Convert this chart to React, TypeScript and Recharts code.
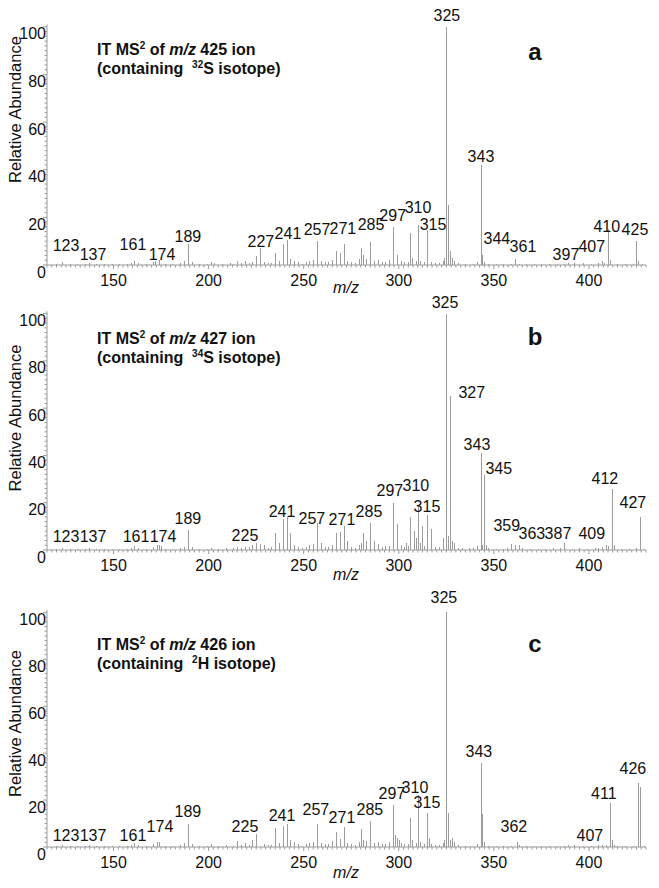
import { ComposedChart, Bar, Scatter, XAxis, YAxis, ReferenceLine } from "recharts";

const FONT = '"Liberation Sans", Arial, Helvetica, sans-serif';
const AXIS = "#9a9a9a";
const PEAK = "#9c9c9c";
const INK = "#111111";

// [m/z, relative abundance]
const peaksA: [number, number][] = [
  [123, 1.2], [137, 0.8], [161, 1.5], [174, 2], [189, 9], [227, 7], [241, 10.5],
  [257, 10], [271, 9], [285, 9.7], [297, 16], [310, 17], [315, 14.5], [325, 100],
  [343, 42], [344, 4], [361, 2.5], [397, 1], [407, 1.5], [410, 15], [425, 10],
  [120, 0.4], [127, 0.5], [131, 0.4], [135, 0.6], [141, 0.4], [145, 0.5], [149, 0.5],
  [153, 0.4], [157, 0.6], [159, 0.9], [163, 0.7], [167, 0.5], [171, 1.2], [172, 1.6],
  [177, 0.5], [181, 0.6], [185, 0.8], [187, 1.6], [191, 1.2], [195, 0.5], [199, 0.6],
  [201, 1.1], [203, 0.7], [207, 0.5], [211, 0.8], [213, 0.6], [215, 1.6], [217, 0.9],
  [219, 1.6], [221, 0.8], [223, 1.4], [225, 3.8], [229, 1.2], [231, 0.8], [233, 1],
  [235, 5], [237, 1.5], [239, 9], [243, 2.5], [245, 1.6], [247, 1.2], [249, 0.6],
  [251, 1.3], [253, 1.6], [255, 2.2], [259, 1.6], [261, 1.1], [263, 1.2], [265, 2.2],
  [267, 6], [269, 5], [273, 1.6], [275, 1.1], [277, 1], [279, 2.4], [280, 7], [281, 4],
  [283, 2.5], [287, 1.6], [289, 2.2], [291, 1.1], [293, 1.2], [295, 2.3], [299, 4],
  [301, 1.6], [303, 1.1], [305, 1.2], [306, 13.5], [307, 3], [309, 1.6], [311, 1.7],
  [313, 1.1], [317, 1.2], [319, 0.8], [321, 0.9], [323, 1.6], [324, 3], [326, 25],
  [327, 6], [328, 3], [329, 1.5], [331, 0.7], [335, 0.5], [339, 0.6], [341, 1.1],
  [345, 1.2], [347, 0.6], [351, 0.5], [355, 0.5], [359, 0.6], [363, 0.6], [367, 0.5],
  [371, 0.5], [375, 0.5], [379, 0.6], [383, 0.6], [387, 0.5], [389, 0.7], [392, 0.7],
  [401, 0.6], [405, 0.8], [408, 1], [411, 2], [415, 0.5], [419, 0.5], [423, 0.6],
  [426, 1.5], [428, 0.5],
];

const peaksB: [number, number][] = [
  [123, 1], [137, 0.8], [161, 1.5], [173, 2.2], [174, 2], [189, 8.5], [225, 3],
  [235, 7], [237, 3], [239, 13], [241, 14], [243, 7], [257, 11.4], [267, 7], [269, 7.5],
  [271, 10], [273, 4], [281, 7], [283, 4], [285, 11.5], [287, 4], [297, 20], [299, 11],
  [306, 14], [308, 8], [310, 18.6], [312, 10], [315, 15], [317, 9], [325, 100], [327, 65],
  [343, 41], [345, 31.6], [359, 2.5], [361, 2], [363, 2], [387, 3], [409, 2], [412, 25.7],
  [427, 14],
  [120, 0.4], [127, 0.5], [131, 0.5], [135, 0.6], [141, 0.5], [145, 0.5], [149, 0.6],
  [153, 0.4], [157, 0.6], [159, 1], [163, 0.7], [167, 0.5], [171, 1.2], [175, 1.6],
  [177, 0.6], [181, 0.5], [185, 0.8], [187, 1.4], [191, 1.4], [195, 0.5], [199, 0.6],
  [201, 0.9], [205, 0.6], [209, 0.7], [213, 0.9], [215, 1.3], [217, 1], [219, 1.2],
  [221, 1.1], [223, 2], [227, 2.5], [229, 2], [231, 0.8], [233, 1.2], [245, 2],
  [247, 1.2], [249, 0.7], [251, 1.4], [253, 2], [255, 2.4], [259, 3], [261, 1.2],
  [263, 1.3], [265, 2], [275, 1.4], [277, 1], [279, 2], [280, 3], [289, 2.5], [291, 1.2],
  [293, 1.6], [295, 1.5], [301, 2], [303, 1.3], [304, 3], [305, 1.5], [309, 5], [311, 3],
  [313, 1.5], [319, 1.2], [321, 1.4], [323, 5], [326, 6], [328, 4], [329, 3], [331, 1],
  [333, 0.8], [337, 0.7], [339, 1], [341, 1.5], [344, 2], [346, 2], [347, 1], [351, 0.6],
  [355, 0.6], [357, 1], [365, 0.8], [369, 0.6], [373, 0.6], [377, 0.6], [381, 0.7],
  [385, 0.7], [391, 0.6], [395, 0.8], [399, 0.6], [403, 0.8], [405, 1], [407, 1.2],
  [410, 1.5], [413, 2], [417, 0.6], [421, 0.6], [425, 0.8], [429, 0.6],
];

const peaksC: [number, number][] = [
  [123, 1], [137, 0.8], [161, 1.5], [173, 2], [174, 2], [189, 10], [223, 3], [225, 5.5],
  [235, 8], [239, 9], [241, 10], [243, 3], [257, 9.8], [267, 6.4], [269, 3.5], [271, 8.5],
  [280, 7.6], [285, 11], [297, 18], [299, 4], [306, 12.3], [310, 22], [315, 14.5],
  [325, 100], [326, 14.5], [327, 3], [343, 35.7], [344, 14], [362, 2.3], [407, 1],
  [411, 18.7], [412, 3], [426, 27.3], [427, 25.6],
  [120, 0.4], [127, 0.5], [131, 0.4], [135, 0.6], [141, 0.4], [145, 0.5], [149, 0.5],
  [153, 0.4], [157, 0.6], [159, 0.9], [163, 0.7], [167, 0.5], [171, 1.2], [177, 0.5],
  [181, 0.6], [185, 0.8], [187, 1.6], [191, 1.2], [195, 0.5], [199, 0.6], [201, 1.1],
  [205, 0.6], [209, 0.7], [213, 0.6], [215, 2.5], [217, 0.9], [219, 1.8], [221, 0.8],
  [229, 1.2], [231, 0.8], [233, 1], [237, 1.8], [245, 2], [247, 1.2], [249, 0.6],
  [251, 1.3], [253, 1.6], [255, 2.2], [259, 1.6], [261, 1.1], [263, 1.2], [265, 2.4],
  [273, 1.6], [275, 1.1], [277, 1], [279, 2], [281, 3], [283, 2.5], [287, 1.6], [289, 2],
  [291, 1.1], [293, 1.2], [295, 2], [298, 5], [300, 3], [301, 1.6], [303, 1.1], [305, 1.2],
  [307, 3], [309, 1.6], [311, 2], [313, 1.1], [316, 4], [317, 1.2], [319, 0.8], [321, 0.9],
  [323, 1.6], [324, 3], [328, 4], [329, 2], [331, 0.7], [335, 0.5], [339, 0.6], [341, 1.1],
  [345, 2], [347, 0.6], [351, 0.5], [355, 0.5], [359, 0.6], [363, 0.8], [367, 0.5],
  [371, 0.5], [375, 0.5], [379, 0.6], [383, 0.6], [387, 0.5], [389, 0.7], [392, 0.7],
  [397, 0.6], [401, 0.6], [405, 0.8], [409, 1], [413, 1], [415, 0.5], [419, 0.5],
  [423, 0.6], [429, 0.5],
];

// peak annotations: [text, m/z where the text sits, abundance where the text sits]
const labelsA: [string, number, number][] = [
  ["123", 125, 8], ["137", 139.2, 4.6], ["161", 160.2, 8.4], ["174", 175.5, 4.2],
  ["189", 189.1, 11.8], ["227", 227.5, 9.7], ["241", 241.7, 13.4], ["257", 257, 14.7],
  ["271", 270.6, 15.5], ["285", 285.4, 17.2], ["297", 296.8, 20.8], ["310", 310.1, 24.3],
  ["315", 318, 16.8], ["325", 325.3, 104.6], ["343", 343.2, 45.4], ["344", 351.6, 11.3],
  ["361", 365.3, 7.6], ["397", 387.9, 4.2], ["407", 401.5, 7.6], ["410", 409.4, 16],
  ["425", 424.2, 14.7],
];

const labelsB: [string, number, number][] = [
  ["123", 125, 5.7], ["137", 139.2, 5.7], ["161", 161.8, 5.7], ["174", 176, 5.7],
  ["189", 189.1, 13.5], ["225", 219.1, 6.3], ["241", 238.6, 16.3], ["257", 254.3, 13.5],
  ["271", 270.1, 13.1], ["285", 284.3, 16.5], ["297", 295.3, 25], ["310", 309, 27.1],
  ["315", 314.8, 18.2], ["325", 324.3, 104.9], ["327", 338.4, 66.8], ["343", 341.1, 44.8],
  ["345", 352.6, 34.3], ["359", 356.8, 10.2], ["363", 370, 6.8], ["387", 383.7, 6.8],
  ["409", 401.5, 6.8], ["412", 408.4, 30.2], ["427", 423.1, 20.1],
];

const labelsC: [string, number, number][] = [
  ["123", 125, 5.1], ["137", 139.2, 5.1], ["161", 160.2, 5.1], ["174", 174.4, 8.7],
  ["189", 189.1, 15.1], ["225", 219.1, 8.7], ["241", 238.6, 13.4], ["257", 256.4, 16],
  ["271", 270.1, 12.4], ["285", 284.8, 15.8], ["297", 296.4, 23], ["310", 308.5, 25.4],
  ["315", 314.8, 19], ["325", 323.7, 106.4], ["343", 342.1, 40.9], ["362", 360.5, 8.7],
  ["407", 400.5, 4.9], ["411", 407.8, 23], ["426", 423.1, 33.3],
];

const X_MIN = 115;
const X_MAX = 430;
const xTicks: number[] = [];
for (let v = X_MIN; v <= X_MAX; v += 2.5) xTicks.push(v);
const yTicks: number[] = [];
for (let v = 0; v <= 100; v += 2) yTicks.push(v);

const toRows = (pairs: [number, number][]) =>
  pairs.map(([mz, ab]) => ({ mz, ab })).sort((a, b) => a.mz - b.mz);
const toLabels = (items: [string, number, number][]) =>
  items.map(([text, mz, ab]) => ({ text, mz, ab }));

const XTick = (props: any) => {
  const { x, y, payload } = props;
  const v = payload.value;
  const major = v % 50 === 0;
  return (
    <g>
      <line x1={x} x2={x} y1={y} y2={y + (major ? 4 : 2.5)} stroke={AXIS} />
      {major && (
        <text x={x} y={y + 15.5} textAnchor="middle" dominantBaseline="central"
          fontSize={16} fontFamily={FONT} fill={INK}>
          {v}
        </text>
      )}
    </g>
  );
};

const YTick = (props: any) => {
  const { x, y, payload } = props;
  const v = payload.value;
  const major = v % 20 === 0;
  return (
    <g>
      <line x1={x - (major ? 4 : 2.5)} x2={x} y1={y} y2={y} stroke={AXIS} />
      {major && (
        <text x={x - 1} y={y + 7} textAnchor="end" dominantBaseline="central"
          fontSize={16} fontFamily={FONT} fill={INK}>
          {v}
        </text>
      )}
    </g>
  );
};

// one pixel wide stick, snapped to the pixel grid so it stays solid
const Stick = (props: any) => {
  const { x, y, width, height } = props;
  if (!height || height <= 0) return null;
  const cx = Math.round(x + width / 2);
  return <rect x={cx} y={y} width={1} height={height} fill={PEAK} shapeRendering="crispEdges" />;
};

const PeakLabel = (props: any) => {
  const { cx, cy, payload } = props;
  return (
    <text x={cx} y={cy} textAnchor="middle" dominantBaseline="central"
      fontSize={16} fontFamily={FONT} fill={INK}>
      {payload.text}
    </text>
  );
};

interface PanelProps {
  top: number;
  height: number;
  marginTop: number;
  axisHeight: number;
  peaks: [number, number][];
  labels: [string, number, number][];
  precursor: string;
  isoMass: string;
  isoSym: string;
  letter: string;
  titleY: number;
  letterY: number;
  yLabelY: number;
  mzY: number;
}

function Panel(p: PanelProps) {
  const rows = toRows(p.peaks);
  return (
    <div style={{ position: "absolute", left: 0, top: p.top, width: 659, height: p.height }}>
      <ComposedChart width={659} height={p.height} data={rows}
        margin={{ top: p.marginTop, right: 13, bottom: 0, left: 0 }}>
        <XAxis dataKey="mz" type="number" domain={[X_MIN, X_MAX]} ticks={xTicks}
          interval={0} height={p.axisHeight} tickSize={0} tickMargin={0}
          tickLine={false} axisLine={{ stroke: AXIS }} tick={<XTick />} />
        <YAxis type="number" domain={[0, 110]} ticks={yTicks} interval={0} width={47}
          tickSize={0} tickMargin={0} tickLine={false} axisLine={false} tick={<YTick />} />
        <ReferenceLine segment={[{ x: X_MIN, y: 0 }, { x: X_MIN, y: 101 }]} stroke={AXIS} />
        <Bar dataKey="ab" fill={PEAK} barSize={1} shape={<Stick />} isAnimationActive={false} />
        <Scatter data={toLabels(p.labels)} dataKey="ab" shape={<PeakLabel />}
          isAnimationActive={false} />
      </ComposedChart>
      <svg width={659} height={p.height}
        style={{ position: "absolute", left: 0, top: 0, pointerEvents: "none", overflow: "visible" }}>
        <text x={97} y={p.titleY} fontFamily={FONT} fontSize={16} fontWeight="bold" fill={INK}>
          IT MS<tspan fontSize={10} dy={-6}>2</tspan>
          <tspan dy={6}> of </tspan>
          <tspan fontStyle="italic">m/z</tspan> {p.precursor} ion
        </text>
        <text x={97} y={p.titleY + 19} fontFamily={FONT} fontSize={16} fontWeight="bold"
          fill={INK} style={{ whiteSpace: "pre" }}>
          {"(containing  "}
          <tspan fontSize={10} dy={-6}>{p.isoMass}</tspan>
          <tspan dy={6}>{p.isoSym + " isotope)"}</tspan>
        </text>
        <text x={535} y={p.letterY} textAnchor="middle" fontFamily={FONT} fontSize={24}
          fontWeight="bold" fill={INK}>
          {p.letter}
        </text>
        <text x={15} y={p.yLabelY} transform={`rotate(-90 15 ${p.yLabelY})`}
          textAnchor="middle" dominantBaseline="central" fontFamily={FONT} fontSize={16.5}
          fill={INK}>
          Relative Abundance
        </text>
        <text x={346} y={p.mzY} textAnchor="middle" dominantBaseline="central"
          fontFamily={FONT} fontSize={16} fontStyle="italic" fill={INK}>
          m/z
        </text>
      </svg>
    </div>
  );
}

export default function App() {
  return (
    <div style={{ position: "absolute", left: 0, top: 0, width: 659, height: 888, background: "#fff" }}>
      <Panel top={0} height={290} marginTop={3} axisHeight={25} peaks={peaksA} labels={labelsA}
        precursor="425" isoMass="32" isoSym="S" letter="a"
        titleY={55} letterY={60} yLabelY={109.5} mzY={287} />
      <Panel top={290} height={290} marginTop={0} axisHeight={30} peaks={peaksB} labels={labelsB}
        precursor="427" isoMass="34" isoSym="S" letter="b"
        titleY={54} letterY={55} yLabelY={128} mzY={284} />
      <Panel top={580} height={308} marginTop={9} axisHeight={41} peaks={peaksC} labels={labelsC}
        precursor="426" isoMass="2" isoSym="H" letter="c"
        titleY={70} letterY={72} yLabelY={143.5} mzY={292} />
    </div>
  );
}
